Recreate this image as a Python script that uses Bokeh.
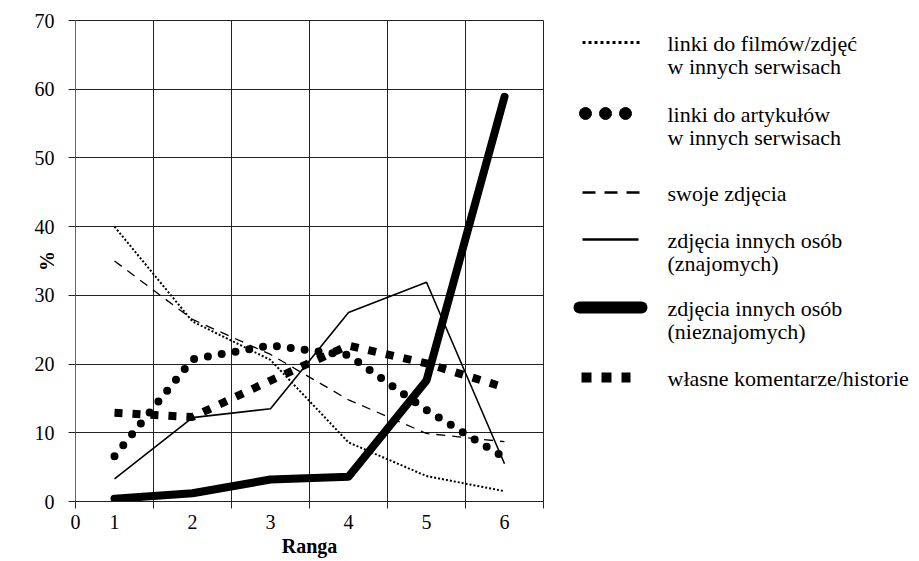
from bokeh.plotting import figure
from bokeh.models import FixedTicker, Range1d
from bokeh.layouts import row
from bokeh.core.properties import value
from bokeh.embed import file_html
from bokeh.resources import INLINE

FONT = "Liberation Serif"

# ---- data -----------------------------------------------------------
ranga = [1, 2, 3, 4, 5, 6]
linki_filmy = [40.0, 26.2, 20.6, 8.6, 3.7, 1.5]
linki_artykuly = [6.6, 20.7, 22.7, 21.3, 13.3, 6.4]
swoje_zdjecia = [35.0, 26.5, 21.4, 14.8, 9.9, 8.7]
zdjecia_znajomych = [3.3, 12.2, 13.5, 27.5, 31.9, 5.5]
zdjecia_nieznajomych = [0.4, 1.2, 3.2, 3.6, 17.6, 58.9]
wlasne_komentarze = [12.9, 12.3, 17.6, 22.7, 20.1, 16.6]

series_names = [
    "linki do filmów/zdjęć\nw innych serwisach",
    "linki do artykułów\nw innych serwisach",
    "swoje zdjęcia",
    "zdjęcia innych osób\n(znajomych)",
    "zdjęcia innych osób\n(nieznajomych)",
    "własne komentarze/historie",
]
x_tick_values = [0.5, 1, 2, 3, 4, 5, 6]
x_tick_labels = ["0", "1", "2", "3", "4", "5", "6"]
y_ticks = [0, 10, 20, 30, 40, 50, 60, 70]

TOP, FH, BOTTOM = 20, 481, 58

# ---- main chart -----------------------------------------------------
p = figure(frame_width=468, frame_height=FH, output_backend="svg",
           toolbar_location=None, x_range=Range1d(0.5, 6.5),
           y_range=Range1d(0, 70), min_border_left=75, min_border_top=TOP,
           min_border_right=17, min_border_bottom=BOTTOM)
p.background_fill_color = "white"
p.border_fill_color = "white"
p.outline_line_color = "#222222"
p.outline_line_width = 1

grid_x = [0.5 + i for i in range(7)]
p.xaxis.ticker = FixedTicker(ticks=x_tick_values, minor_ticks=grid_x)
p.xaxis.major_label_overrides = {v: l for v, l in zip(x_tick_values, x_tick_labels)}
p.xaxis.major_tick_line_color = None
p.xaxis.major_tick_out = 7
p.xaxis.minor_tick_out = 7
p.xaxis.minor_tick_in = 0
p.xaxis.minor_tick_line_color = "#222222"
p.xaxis.axis_line_color = "#222222"
p.xaxis.major_label_standoff = 6
p.xaxis.axis_label = "Ranga"
p.xaxis.axis_label_standoff = 3
p.xgrid.ticker = FixedTicker(ticks=grid_x)

p.yaxis.ticker = FixedTicker(ticks=y_ticks)
p.yaxis.major_tick_out = 7
p.yaxis.major_tick_in = 0
p.yaxis.minor_tick_line_color = None
p.yaxis.major_tick_line_color = "#222222"
p.yaxis.axis_line_color = "#666666"
p.yaxis.major_label_standoff = 14
p.yaxis.axis_label = "%"
p.yaxis.axis_label_standoff = -26

for ax in (p.xaxis, p.yaxis):
    ax.major_label_text_font = FONT
    ax.major_label_text_font_size = "20px"
    ax.major_label_text_color = "black"
    ax.axis_label_text_font = FONT
    ax.axis_label_text_font_size = "20px"
    ax.axis_label_text_font_style = "bold"
    ax.axis_label_text_color = "black"

for g in (p.xgrid, p.ygrid):
    g.grid_line_color = "#222222"
    g.grid_line_width = 1
    g.grid_line_alpha = 1

p.line(ranga, linki_filmy, line_color="black", line_width=2,
       line_dash="2 2", line_cap="butt")
p.line(ranga, swoje_zdjecia, line_color="black", line_width=1.3,
       line_dash="9 7")
p.line(ranga, zdjecia_znajomych, line_color="black", line_width=1.6)
p.line(ranga, wlasne_komentarze, line_color="black", line_width=8,
       line_dash="8 10", line_cap="butt")
p.line(ranga, linki_artykuly, line_color="black", line_width=8,
       line_dash="0 14", line_cap="round")
p.line(ranga, zdjecia_nieznajomych, line_color="black", line_width=8,
       line_cap="round", line_join="round")

# ---- legend panel (coordinates: pixels from the panel's left / page top) --
W = 359
leg = figure(frame_width=W, frame_height=FH, output_backend="svg",
             toolbar_location=None, x_range=Range1d(0, W),
             y_range=Range1d(TOP + FH, TOP), min_border_left=0,
             min_border_right=0, min_border_top=TOP,
             min_border_bottom=BOTTOM, outline_line_color=None)
leg.axis.visible = False
leg.grid.visible = False

row_y = [42, 113, 192, 239, 307, 377]
sx0, sx1 = 22, 80
tx = 107
line_gap = 22.5

leg.line([sx0, sx1], [row_y[0]] * 2, line_color="black", line_width=3,
         line_dash="3 3")
leg.scatter([sx0 + 3 + 20 * i for i in range(3)], [row_y[1]] * 3,
            size=12, color="black")
leg.line([sx0, sx1], [row_y[2]] * 2, line_color="black", line_width=2.5,
         line_dash="13 9")
leg.line([sx0, sx1 - 2], [row_y[3]] * 2, line_color="black", line_width=2.5)
leg.line([sx0 - 3, sx1 + 1], [row_y[4]] * 2, line_color="black",
         line_width=12, line_cap="round")
leg.line([sx0 - 1, sx1 - 10], [row_y[5]] * 2, line_color="black",
         line_width=10, line_dash="10 10")

txt_x, txt_y, txt_s = [], [], []
for name, y in zip(series_names, row_y):
    for k, part in enumerate(name.split("\n")):
        txt_x.append(tx)
        txt_y.append(y + 1 + k * line_gap)
        txt_s.append(part)
leg.text(txt_x, txt_y, text=txt_s, text_font=value(FONT),
         text_font_size="22px", text_baseline="middle", text_align="left",
         text_color="black")

layout = row(p, leg)
open("out.html", "w").write(file_html(layout, INLINE))
